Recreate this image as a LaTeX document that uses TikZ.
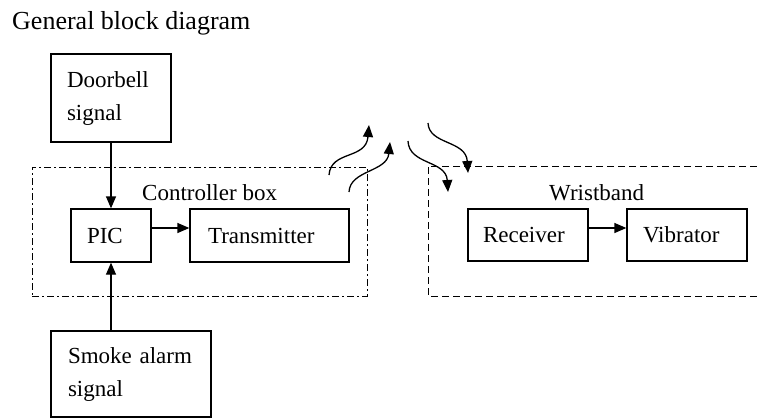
\documentclass[tikz,border=0pt]{standalone}
\usepackage{fontspec}
\setmainfont{Liberation Serif}
\usetikzlibrary{arrows.meta}
\begin{document}
\begin{tikzpicture}[x=1pt,y=-1pt,
  txt/.style={font=\fontsize{23}{33}\selectfont, inner sep=0pt},
  box/.style={draw, line width=1.3pt, align=left, inner ysep=0pt,
    font=\fontsize{23}{33}\selectfont},
  arr/.style={line width=1.3pt, -{Triangle[length=12pt,width=10pt]}},
  dashdot/.style={draw, line width=1pt, dash pattern=on 7pt off 3pt on 2pt off 3pt},
  wdash/.style={line width=1pt, dash pattern=on 7pt off 4pt}
]
\useasboundingbox (0,0) rectangle (757,418);
% title
\node[txt, anchor=base west, font=\fontsize{26}{30}\selectfont] (title) at (12,29) {General block diagram};
% controller container
\node[dashdot, minimum width=335pt, minimum height=129pt, inner sep=0pt] (ctrl) at (199.5,231.5) {};
\node[txt, anchor=base west] (ctrllbl) at (142,200) {Controller box};
% wristband container (open to the right)
\coordinate (wtr) at (757,166);
\coordinate (wbr) at (757,296);
\coordinate (wbl) at (428,296);
\draw[wdash] (wtr) -| (wbl) -- (wbr);
\node[txt, anchor=base west] (wlbl) at (549,200) {Wristband};
% blocks
\node[box, text width=88pt, inner xsep=16pt, minimum height=88pt] (door) at (111,98) {Doorbell\\signal};
\node[box, text width=48pt, inner xsep=16pt, minimum height=53pt] (pic) at (111,235.5) {PIC};
\node[box, text width=123pt, inner xsep=18pt, minimum height=53pt] (trans) at (269.5,235.5) {Transmitter};
\node[box, text width=126pt, inner xsep=17pt, minimum height=86pt] (smoke) at (131,374) {Smoke alarm\\signal};
\node[box, text width=90pt, inner xsep=15pt, minimum height=52pt] (recv) at (528,235) {Receiver};
\node[box, text width=88pt, inner xsep=16pt, minimum height=52pt] (vib) at (687,235) {Vibrator};
% connectors
\draw[arr] (door.south) -- (pic.north);
\draw[arr] (smoke.north -| pic.south) -- (pic.south);
\draw[arr] ([yshift=7.5pt]pic.east) -- ([yshift=7.5pt]trans.west);
\draw[arr] ([yshift=7pt]recv.east) -- ([yshift=7pt]vib.west);
% wireless waves
\coordinate (w1s) at (329,175); \coordinate (w1e) at (369,125);
\coordinate (w2s) at (349,192); \coordinate (w2e) at (390,142);
\coordinate (w3s) at (408,141); \coordinate (w3e) at (448,192);
\coordinate (w4s) at (428,123); \coordinate (w4e) at (468,173);
\draw[arr] (w1s) .. controls (331,150) and (366,160) .. (w1e);
\draw[arr] (w2s) .. controls (350,170) and (387,172) .. (w2e);
\draw[arr] (w3s) .. controls (409,165) and (446,160) .. (w3e);
\draw[arr] (w4s) .. controls (429,145) and (466,140) .. (w4e);
\end{tikzpicture}
\end{document}
